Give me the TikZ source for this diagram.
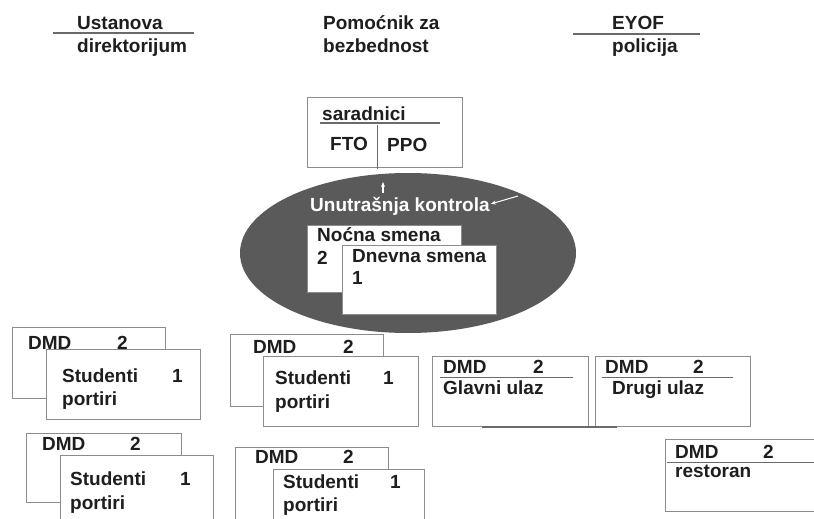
\documentclass[tikz,border=0pt]{standalone}
\usepackage{fontspec}
\setmainfont{Liberation Sans}
\usetikzlibrary{shapes.geometric,arrows.meta}
\definecolor{boxgray}{HTML}{8C8C8C}
\definecolor{linegray}{HTML}{6A6A6A}
\definecolor{ellc}{HTML}{5A5A5A}
\definecolor{textc}{HTML}{1E1E1E}
\begin{document}
\begin{tikzpicture}[x=1pt,y=-1pt,
  box/.style={draw=boxgray, fill=white, line width=1pt, rectangle, anchor=north west, inner sep=0pt},
  txt/.style={anchor=base west, inner sep=0pt, font=\fontsize{19}{21}\selectfont\bfseries, text=textc},
  wtxt/.style={txt, text=white},
  rule/.style={draw=linegray, line width=1.1pt},
  openbox/.style={draw=boxgray, fill=white, line width=1pt}]
\fill[white] (0,0) rectangle (814,519);
\path[use as bounding box] (0,0) rectangle (814,519);

% headers
\node[txt] (h1a) at (77,30) {Ustanova};
\node[txt] (h1b) at (77,53) {direktorijum};
\coordinate (h1l) at (53,33); \coordinate (h1r) at (194,33);
\draw[rule] (h1l) -- (h1r);
\node[txt] (h2a) at (323,30) {Pomoćnik za};
\node[txt] (h2b) at (323,53) {bezbednost};
\node[txt] (h3a) at (612,30) {EYOF};
\node[txt] (h3b) at (612,53) {policija};
\coordinate (h3l) at (573,34); \coordinate (h3r) at (700,34);
\draw[rule] (h3l) -- (h3r);

% saradnici
\node[box, minimum width=155pt, minimum height=70pt] (sar) at (307,97) {};
\node[txt] (sart) at (322,121) {saradnici};
\coordinate (sl) at (320,123); \coordinate (sr) at (440,123);
\draw[rule] (sl) -- (sr);
\coordinate (dvt) at (377,125); \coordinate (dvb) at (377,169);
\draw[draw=linegray, line width=1pt] (dvt) -- (dvb);
\node[txt] (fto) at (330,150) {FTO};
\node[txt] (ppo) at (387,151) {PPO};

% ellipse
\node[ellipse, fill=ellc, minimum width=336pt, minimum height=160pt, inner sep=0pt] (ell) at (408,253) {};
\coordinate (va) at (383,193); \coordinate (vb) at (383,182);
\draw[white, line width=1.3pt, -{Stealth[length=5pt,width=4pt]}] (va) -- (vb);
\node[wtxt] (unut) at (310,211) {Unutrašnja kontrola};
\coordinate (ka) at (518,196);
\draw[white, line width=1pt, -{Stealth[length=5pt,width=4pt]}] (ka) -- ([xshift=1pt,yshift=2pt]unut.east);

\node[box, minimum width=154pt, minimum height=67pt] (noc) at (307,225) {};
\node[txt] (noct) at (317,241) {Noćna smena};
\node[txt] (noc2) at (317,264) {2};
\node[box, minimum width=154pt, minimum height=69pt] (dne) at (342,245) {};
\node[txt] (dnet) at (352,262) {Dnevna smena};
\node[txt] (dne1) at (352,284) {1};

% group 1
\node[box, minimum width=153pt, minimum height=71pt] (g1b) at (12,327) {};
\node[txt] (g1d) at (28,349) {DMD};
\node[txt] (g1n) at (117,349) {2};
\node[box, minimum width=154pt, minimum height=70pt] (g1f) at (46,349) {};
\node[txt] (g1s) at (62,382) {Studenti};
\node[txt] (g1o) at (172,382) {1};
\node[txt] (g1p) at (62,405) {portiri};

% group 2
\node[box, minimum width=153pt, minimum height=72pt] (g2b) at (230,334) {};
\node[txt] (g2d) at (253,353) {DMD};
\node[txt] (g2n) at (343,353) {2};
\node[box, minimum width=155pt, minimum height=70pt] (g2f) at (263,356) {};
\node[txt] (g2s) at (275,384) {Studenti};
\node[txt] (g2o) at (383,384) {1};
\node[txt] (g2p) at (275,408) {portiri};

% group 3
\node[box, minimum width=155pt, minimum height=69pt] (g3b) at (26,433) {};
\node[txt] (g3d) at (42,450) {DMD};
\node[txt] (g3n) at (130,450) {2};
\coordinate (g3a) at (60,525); \coordinate (g3c) at (60,455); \coordinate (g3e) at (213,455); \coordinate (g3f) at (213,525);
\filldraw[openbox] (g3a) -- (g3c) -- (g3e) -- (g3f);
\node[txt] (g3s) at (70,485) {Studenti};
\node[txt] (g3o) at (180,485) {1};
\node[txt] (g3p) at (70,509) {portiri};

% group 4
\coordinate (g4a) at (235,525); \coordinate (g4c) at (235,447); \coordinate (g4e) at (388,447); \coordinate (g4f) at (388,525);
\filldraw[openbox] (g4a) -- (g4c) -- (g4e) -- (g4f);
\node[txt] (g4d) at (255,463) {DMD};
\node[txt] (g4n) at (343,463) {2};
\coordinate (g4g) at (273,525); \coordinate (g4h) at (273,469); \coordinate (g4i) at (424,469); \coordinate (g4j) at (424,525);
\filldraw[openbox] (g4g) -- (g4h) -- (g4i) -- (g4j);
\node[txt] (g4s) at (283,488) {Studenti};
\node[txt] (g4o) at (390,488) {1};
\node[txt] (g4p) at (283,511) {portiri};

% entrances
\node[box, minimum width=156pt, minimum height=70pt] (gl) at (432,356) {};
\node[txt] (gld) at (443,373) {DMD};
\node[txt] (gln) at (533,373) {2};
\coordinate (gla) at (440,377); \coordinate (glb) at (573,377);
\draw[rule, line width=1pt] (gla) -- (glb);
\node[txt] (glt) at (443,394) {Glavni ulaz};

\node[box, minimum width=155pt, minimum height=70pt] (dr) at (595,356) {};
\node[txt] (drd) at (605,373) {DMD};
\node[txt] (drn) at (693,373) {2};
\coordinate (dra) at (602,377); \coordinate (drb) at (733,377);
\draw[rule, line width=1pt] (dra) -- (drb);
\node[txt] (drt) at (612,394) {Drugi ulaz};

\coordinate (ula) at (482,427); \coordinate (ulb) at (617,427);
\draw[draw=linegray, line width=2pt] (ula) -- (ulb);

% restoran
\coordinate (ra) at (814,439); \coordinate (rb) at (665,439); \coordinate (rc) at (665,511); \coordinate (rd) at (814,511);
\filldraw[openbox] (ra) -- (rb) -- (rc) -- (rd);
\node[txt] (rsd) at (675,458) {DMD};
\node[txt] (rsn) at (763,458) {2};
\coordinate (rla) at (667,462); \coordinate (rlb) at (814,462);
\draw[rule, line width=1pt] (rla) -- (rlb);
\node[txt] (rst) at (675,477) {restoran};
\end{tikzpicture}
\end{document}
